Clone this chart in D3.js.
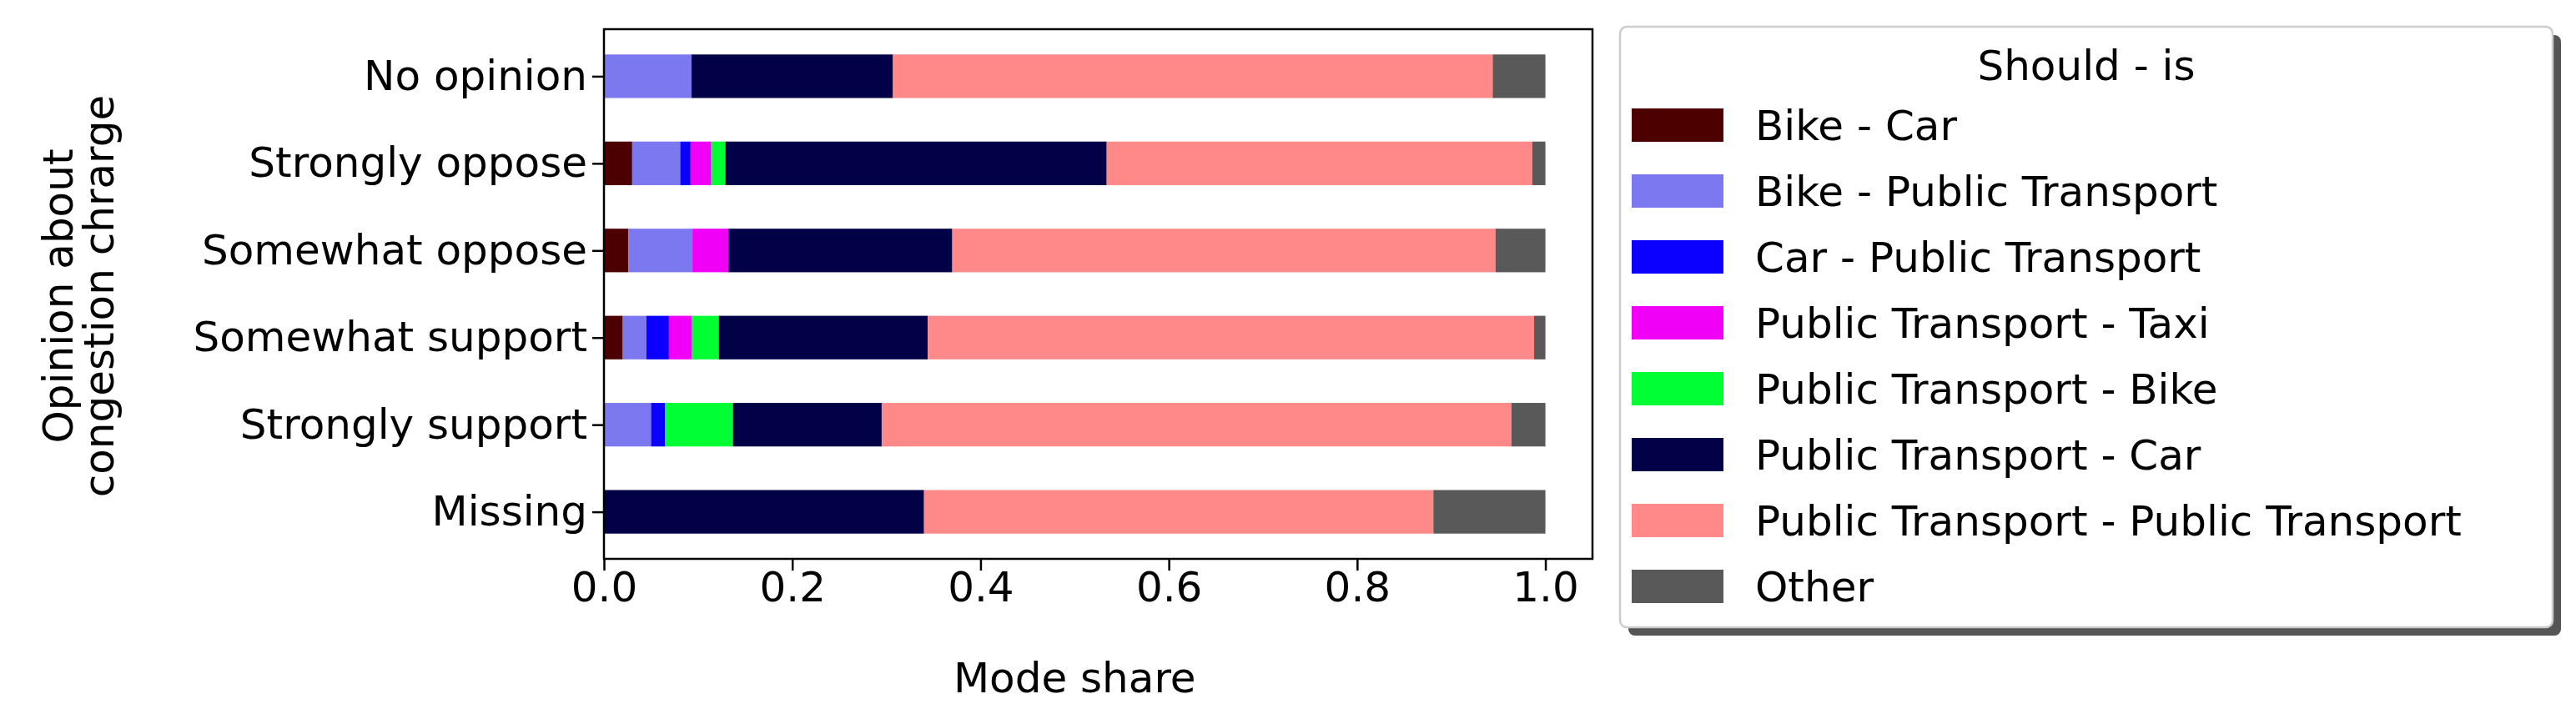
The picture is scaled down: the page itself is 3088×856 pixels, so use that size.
<!DOCTYPE html>
<html><head><meta charset="utf-8">
<script src="https://cdn.jsdelivr.net/npm/d3@7"></script>
<style>body{margin:0;background:#fff}text{font-family:"DejaVu Sans",sans-serif}</style>
</head><body><svg id="c" width="3088" height="856"></svg>
<script>
const categories=["No opinion","Strongly oppose","Somewhat oppose","Somewhat support","Strongly support","Missing"];
const seriesNames=["Bike - Car","Bike - Public Transport","Car - Public Transport","Public Transport - Taxi","Public Transport - Bike","Public Transport - Car","Public Transport - Public Transport","Other"];
const colors=["#4d0000","#7b78f0","#0b00ff","#f000f7","#00ff33","#020046","#ff8888","#595959"];
const bikeCar=[0,0.030,0.026,0.020,0,0];
const bikePT=[0.093,0.051,0.068,0.025,0.050,0];
const carPT=[0,0.011,0,0.024,0.015,0];
const ptTaxi=[0,0.022,0.038,0.024,0,0];
const ptBike=[0,0.015,0,0.029,0.072,0];
const ptCar=[0.214,0.405,0.238,0.222,0.158,0.340];
const ptPT=[0.637,0.452,0.577,0.644,0.669,0.541];
const other=[0.056,0.014,0.053,0.012,0.036,0.119];
const xTicks=[0,0.2,0.4,0.6,0.8,1.0];
const series=[bikeCar,bikePT,carPT,ptTaxi,ptBike,ptCar,ptPT,other];

const FS=50;
const svg=d3.select("#c");
const L=724,R=1909,T=35,B=670;
const x=d3.scaleLinear().domain([0,1.05]).range([L,R]);
const y=d3.scaleLinear().domain([-0.54,5.54]).range([T,B]);
const bh=(y(1)-y(0))*0.5;
const rows=categories.map((c,i)=>{const o={cat:c};seriesNames.forEach((s,k)=>o[s]=series[k][i]);return o;});
const stack=d3.stack().keys(seriesNames)(rows);
stack.forEach((layer,k)=>{
  svg.append("g").selectAll("rect").data(layer).join("rect")
    .attr("x",d=>x(d[0])).attr("width",d=>x(d[1])-x(d[0]))
    .attr("y",(d,i)=>y(i)-bh/2).attr("height",bh).attr("fill",colors[k]);
});
svg.append("rect").attr("x",L).attr("y",T).attr("width",R-L).attr("height",B-T).attr("fill","none").attr("stroke","#000").attr("stroke-width",2.5);
const xa=svg.append("g").attr("transform",`translate(0,${B})`).call(d3.axisBottom(x).tickValues(xTicks).tickFormat(d3.format(".1f")).tickSize(14).tickPadding(37));
xa.select(".domain").remove();
xa.selectAll("line").attr("stroke-width",2.5);
xa.selectAll("text").attr("font-size",FS).attr("fill","#000").attr("dy",0);
const ya=svg.append("g").attr("transform",`translate(${L},0)`).call(d3.axisLeft(y).tickValues(d3.range(6)).tickFormat(i=>categories[i]).tickSize(14).tickPadding(6));
ya.select(".domain").remove();
ya.selectAll("line").attr("stroke-width",2.5);
ya.selectAll("text").attr("font-size",FS).attr("fill","#000");
svg.append("text").attr("x",x(0.5)).attr("y",830).attr("text-anchor","middle").attr("font-size",FS).text("Mode share");
const yt=svg.append("text").attr("transform",`translate(87,355) rotate(-90)`).attr("text-anchor","middle").attr("font-size",FS);
yt.append("tspan").attr("x",0).attr("dy",0).text("Opinion about");
yt.append("tspan").attr("x",0).attr("dy",49).text("congestion chrarge");
// legend
const lx=1942,ly=32,lw=1118,lh=720;
svg.append("rect").attr("x",lx+10).attr("y",ly+10).attr("width",lw).attr("height",lh).attr("rx",8).attr("fill","#555");
svg.append("rect").attr("x",lx).attr("y",ly).attr("width",lw).attr("height",lh).attr("rx",8).attr("fill","#fff").attr("stroke","#ccc").attr("stroke-width",2.5);
svg.append("text").attr("x",lx+lw/2).attr("y",96).attr("text-anchor","middle").attr("font-size",FS).text("Should - is");
seriesNames.forEach((s,k)=>{
  const yy=150+k*79;
  svg.append("rect").attr("x",1956).attr("y",yy-20).attr("width",110).attr("height",40).attr("fill",colors[k]);
  svg.append("text").attr("x",2104).attr("y",yy+18).attr("font-size",FS).text(s);
});
</script></body></html>
